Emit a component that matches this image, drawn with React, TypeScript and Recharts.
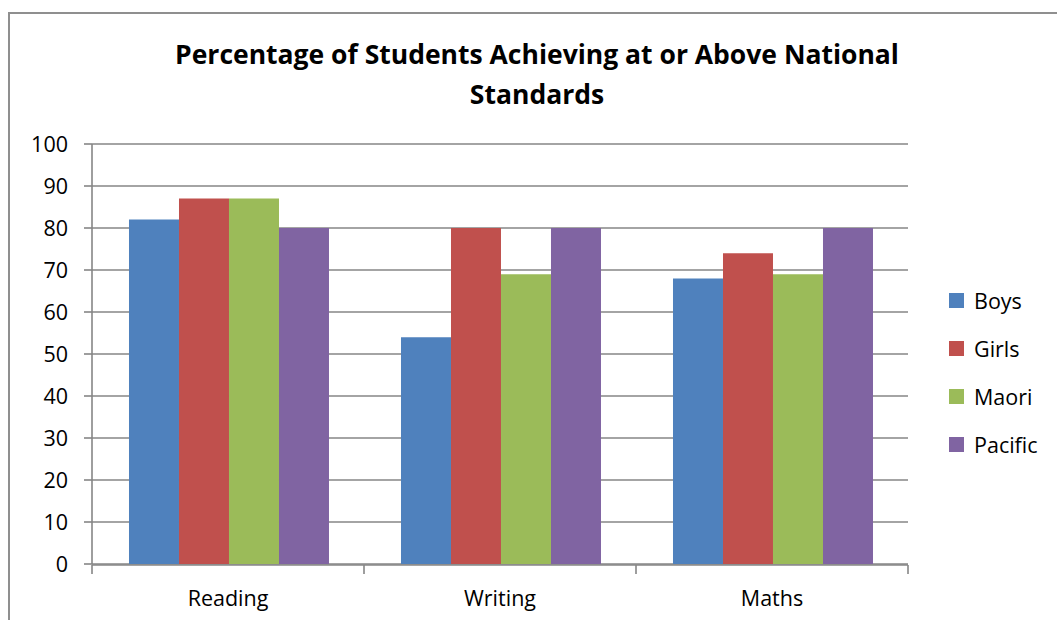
import React from "react";
import { BarChart, Bar, XAxis, YAxis, CartesianGrid } from "recharts";

const subjects = ["Reading", "Writing", "Maths"];
const boys = [82, 54, 68];
const girls = [87, 80, 74];
const maori = [87, 69, 69];
const pacific = [80, 80, 80];
const yTicks = [0, 10, 20, 30, 40, 50, 60, 70, 80, 90, 100];
const boundaryTicks = [0, 1, 2, 3];

const seriesDefs = [
  { key: "Boys", color: "#4F81BD" },
  { key: "Girls", color: "#C0504D" },
  { key: "Maori", color: "#9BBB59" },
  { key: "Pacific", color: "#8064A2" },
];

const data = subjects.map((s, i) => ({
  subject: s,
  pos: i + 0.5,
  Boys: boys[i],
  Girls: girls[i],
  Maori: maori[i],
  Pacific: pacific[i],
}));

const FONT = "'Open Sans', Lato, sans-serif";
const GRID = "#868686";

const LegendBox = () => (
  <div style={{ fontFamily: FONT, fontSize: 21.5, color: "#000" }}>
    {seriesDefs.map((s) => (
      <div key={s.key} style={{ display: "flex", alignItems: "center", height: 48 }}>
        <div style={{ width: 15, height: 15, background: s.color, marginRight: 10 }} />
        <span>{s.key}</span>
      </div>
    ))}
  </div>
);

const NoLabel = () => <g />;

export default function App() {
  return (
    <div style={{ position: "absolute", left: 0, top: 0, width: 1057, height: 620, overflow: "hidden", background: "#fff" }}>
      <div
        style={{
          position: "absolute",
          left: 8,
          top: 12,
          width: 1200,
          height: 800,
          border: "2px solid #8f8f8f",
          boxSizing: "border-box",
        }}
      />
      <div
        style={{
          position: "absolute",
          left: 0,
          top: 34,
          width: 1074,
          textAlign: "center",
          fontFamily: FONT,
          fontWeight: 700,
          fontSize: 26.5,
          lineHeight: "40px",
          color: "#000",
        }}
      >
        Percentage of Students Achieving at or Above National
        <br />
        Standards
      </div>
      <div style={{ position: "absolute", left: 0, top: 0 }}>
        <BarChart
          width={1057}
          height={620}
          data={data}
          margin={{ top: 144, right: 149, left: 0, bottom: 54 }}
          barCategoryGap="13.6%"
          barGap={0}
        >
          <CartesianGrid vertical={false} stroke={GRID} strokeWidth={1.6} />
          <XAxis
            dataKey="pos"
            xAxisId="edges"
            type="number"
            domain={[0, 3]}
            ticks={boundaryTicks}
            interval={0}
            height={1}
            axisLine={{ stroke: GRID, strokeWidth: 1.6 }}
            tick={<NoLabel />}
            tickSize={9}
            tickLine={{ stroke: GRID, strokeWidth: 1.6 }}
          />
          <XAxis
            dataKey="subject"
            xAxisId="cat"
            height={1}
            tickLine={false}
            axisLine={false}
            tickSize={0}
            tickMargin={27}
            tick={{ fontFamily: FONT, fontSize: 21.5, fill: "#000" }}
          />
          <YAxis
            width={92}
            domain={[0, 100]}
            ticks={yTicks}
            interval={0}
            tickSize={8}
            tickMargin={16}
            axisLine={{ stroke: GRID, strokeWidth: 1.6 }}
            tickLine={{ stroke: GRID, strokeWidth: 1.6 }}
            tick={{ fontFamily: FONT, fontSize: 21.5, fill: "#000" }}
          />
          {seriesDefs.map((s) => (
            <Bar key={s.key} xAxisId="cat" dataKey={s.key} fill={s.color} isAnimationActive={false} />
          ))}
        </BarChart>
      </div>
      <div style={{ position: "absolute", left: 949, top: 276 }}>
        <LegendBox />
      </div>
    </div>
  );
}
